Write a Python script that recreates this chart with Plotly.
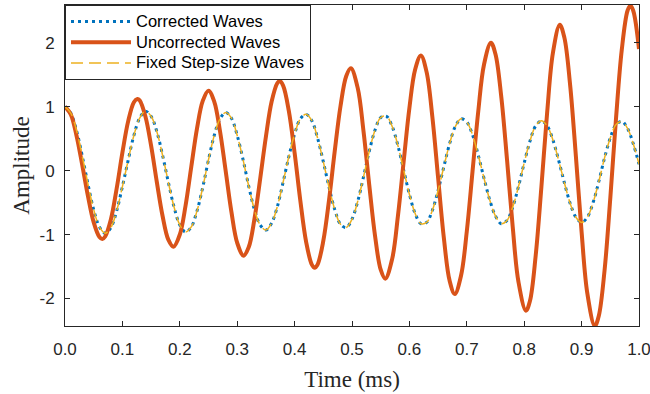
import plotly.graph_objects as go

# ---- data ----
time_ms = [i / 100 for i in range(101)]

corrected = [1.00, 0.90, 0.63, 0.23, -0.21, -0.61, -0.88, -0.98, -0.89, -0.63,
             -0.25, 0.16, 0.55, 0.82, 0.93, 0.85, 0.61, 0.24, -0.18, -0.57,
             -0.85, -0.96, -0.88, -0.63, -0.26, 0.17, 0.55, 0.81, 0.91, 0.82,
             0.55, 0.18, -0.24, -0.61, -0.85, -0.93, -0.82, -0.56, -0.18, 0.22,
             0.57, 0.81, 0.88, 0.78, 0.51, 0.14, -0.26, -0.61, -0.84, -0.89,
             -0.76, -0.48, -0.10, 0.30, 0.63, 0.83, 0.85, 0.69, 0.39, 0.01,
             -0.37, -0.67, -0.83, -0.81, -0.62, -0.31, 0.06, 0.42, 0.69, 0.81,
             0.76, 0.56, 0.24, -0.12, -0.46, -0.71, -0.83, -0.78, -0.57, -0.25,
             0.12, 0.46, 0.70, 0.78, 0.70, 0.48, 0.16, -0.19, -0.51, -0.73,
             -0.81, -0.73, -0.50, -0.17, 0.20, 0.51, 0.72, 0.77, 0.66, 0.42,
             0.10]

fixed_step = [1.00, 0.90, 0.63, 0.23, -0.21, -0.61, -0.88, -0.98, -0.89, -0.63,
              -0.25, 0.16, 0.55, 0.82, 0.93, 0.85, 0.61, 0.24, -0.18, -0.57,
              -0.85, -0.96, -0.88, -0.63, -0.26, 0.17, 0.55, 0.81, 0.91, 0.82,
              0.55, 0.18, -0.24, -0.61, -0.85, -0.93, -0.82, -0.56, -0.18, 0.22,
              0.57, 0.81, 0.88, 0.78, 0.51, 0.14, -0.26, -0.61, -0.84, -0.89,
              -0.76, -0.48, -0.10, 0.30, 0.63, 0.83, 0.85, 0.69, 0.39, 0.01,
              -0.37, -0.67, -0.83, -0.81, -0.62, -0.31, 0.06, 0.42, 0.69, 0.81,
              0.76, 0.56, 0.24, -0.12, -0.46, -0.71, -0.83, -0.78, -0.57, -0.25,
              0.12, 0.46, 0.70, 0.78, 0.70, 0.48, 0.16, -0.19, -0.51, -0.73,
              -0.81, -0.73, -0.50, -0.17, 0.20, 0.51, 0.72, 0.77, 0.66, 0.42,
              0.10]

time_uncorr = [0.000, 0.010, 0.020, 0.030, 0.040, 0.050, 0.060, 0.065, 0.070, 0.080,
               0.090, 0.100, 0.110, 0.120, 0.126, 0.130, 0.140, 0.150, 0.160, 0.170,
               0.180, 0.189, 0.200, 0.210, 0.220, 0.230, 0.240, 0.250, 0.260, 0.270,
               0.280, 0.290, 0.300, 0.311, 0.320, 0.330, 0.340, 0.350, 0.360, 0.370,
               0.374, 0.380, 0.390, 0.400, 0.410, 0.420, 0.430, 0.435, 0.440, 0.450,
               0.460, 0.470, 0.480, 0.490, 0.498, 0.510, 0.520, 0.530, 0.540, 0.550,
               0.558, 0.570, 0.580, 0.590, 0.600, 0.610, 0.620, 0.630, 0.640, 0.650,
               0.660, 0.670, 0.679, 0.690, 0.700, 0.710, 0.720, 0.730, 0.742, 0.750,
               0.760, 0.770, 0.780, 0.790, 0.803, 0.810, 0.820, 0.830, 0.840, 0.850,
               0.862, 0.870, 0.880, 0.890, 0.900, 0.910, 0.923, 0.930, 0.940, 0.950,
               0.960, 0.970, 0.980, 0.985, 0.990, 1.000]

uncorrected = [1.00, 0.88, 0.55, 0.09, -0.40, -0.81, -1.04, -1.07, -1.03, -0.76,
               -0.28, 0.28, 0.77, 1.07, 1.12, 1.10, 0.85, 0.39, -0.18, -0.71,
               -1.08, -1.19, -1.00, -0.55, 0.06, 0.66, 1.09, 1.25, 1.08, 0.62,
               -0.01, -0.65, -1.13, -1.33, -1.20, -0.76, -0.13, 0.53, 1.08, 1.37,
               1.40, 1.33, 0.93, 0.28, -0.47, -1.11, -1.47, -1.52, -1.47, -1.10,
               -0.46, 0.31, 1.01, 1.48, 1.60, 1.29, 0.62, -0.22, -1.01, -1.55,
               -1.69, -1.38, -0.71, 0.14, 0.98, 1.58, 1.80, 1.54, 0.84, -0.11,
               -1.05, -1.72, -1.93, -1.64, -0.95, -0.01, 0.93, 1.66, 2.00, 1.82,
               1.16, 0.18, -0.88, -1.74, -2.19, -2.04, -1.33, -0.25, 0.91, 1.84,
               2.28, 2.08, 1.34, 0.23, -0.96, -1.92, -2.43, -2.27, -1.56, -0.43,
               0.82, 1.89, 2.50, 2.58, 2.50, 1.90]

series_names = ["Corrected Waves", "Uncorrected Waves", "Fixed Step-size Waves"]
x_ticks = [0.0, 0.1, 0.2, 0.3, 0.4, 0.5, 0.6, 0.7, 0.8, 0.9, 1.0]
y_ticks = [-2, -1, 0, 1, 2]
y_tick_labels = ["-2", "-1", "0", "1", "2"]

AX = "#262626"
SANS = "Liberation Sans, Arial, sans-serif"
SERIF = "Liberation Serif, Times New Roman, serif"


def legend_label(text):
    return '<span style="font-size:16.5px">' + text + "</span>"


fig = go.Figure()
fig.add_trace(go.Scatter(
    x=time_ms, y=corrected, mode="lines", name=legend_label(series_names[0]),
    line=dict(color="#0072BD", width=3, dash="3px,4px", shape="spline", smoothing=1.0),
))
fig.add_trace(go.Scatter(
    x=time_uncorr, y=uncorrected, mode="lines", name=legend_label(series_names[1]),
    line=dict(color="#D95319", width=4, shape="spline", smoothing=1.0),
))
fig.add_trace(go.Scatter(
    x=time_ms, y=fixed_step, mode="lines", name=legend_label(series_names[2]),
    line=dict(color="#EDB120", width=1.5, dash="12px,6px", shape="spline", smoothing=1.0),
))

axis_common = dict(
    showline=True, linecolor=AX, linewidth=1, mirror="ticks",
    ticks="inside", ticklen=5, tickcolor=AX, tickwidth=1,
    showgrid=False, zeroline=False, automargin=False,
    ticklabeloverflow="allow",
    tickfont=dict(family=SANS, size=17, color=AX),
)

fig.update_layout(
    width=650, height=394,
    margin=dict(l=65, r=11, t=5, b=68),
    paper_bgcolor="white", plot_bgcolor="white",
    showlegend=True,
    legend=dict(
        x=0, y=1, xanchor="left", yanchor="top",
        bgcolor="white", bordercolor=AX, borderwidth=1,
        font=dict(family=SANS, size=13.7, color="#000000"),
        itemwidth=60, tracegroupgap=0,
    ),
    xaxis=dict(
        range=[0, 1], tickvals=x_ticks, tickformat=".1f",
        ticklabelstandoff=8,
        title=dict(text="Time (ms)", font=dict(family=SERIF, size=23, color=AX), standoff=12),
        **axis_common,
    ),
    yaxis=dict(
        range=[-2.43, 2.59], tickvals=y_ticks, ticktext=y_tick_labels,
        ticklabelstandoff=6,
        title=dict(text="Amplitude", font=dict(family=SERIF, size=23, color=AX), standoff=3),
        **axis_common,
    ),
)

fig.write_html(
    "out.html",
    config={"displayModeBar": False},
    post_script="document.body.style.margin='0';document.body.style.overflow='hidden';",
)
